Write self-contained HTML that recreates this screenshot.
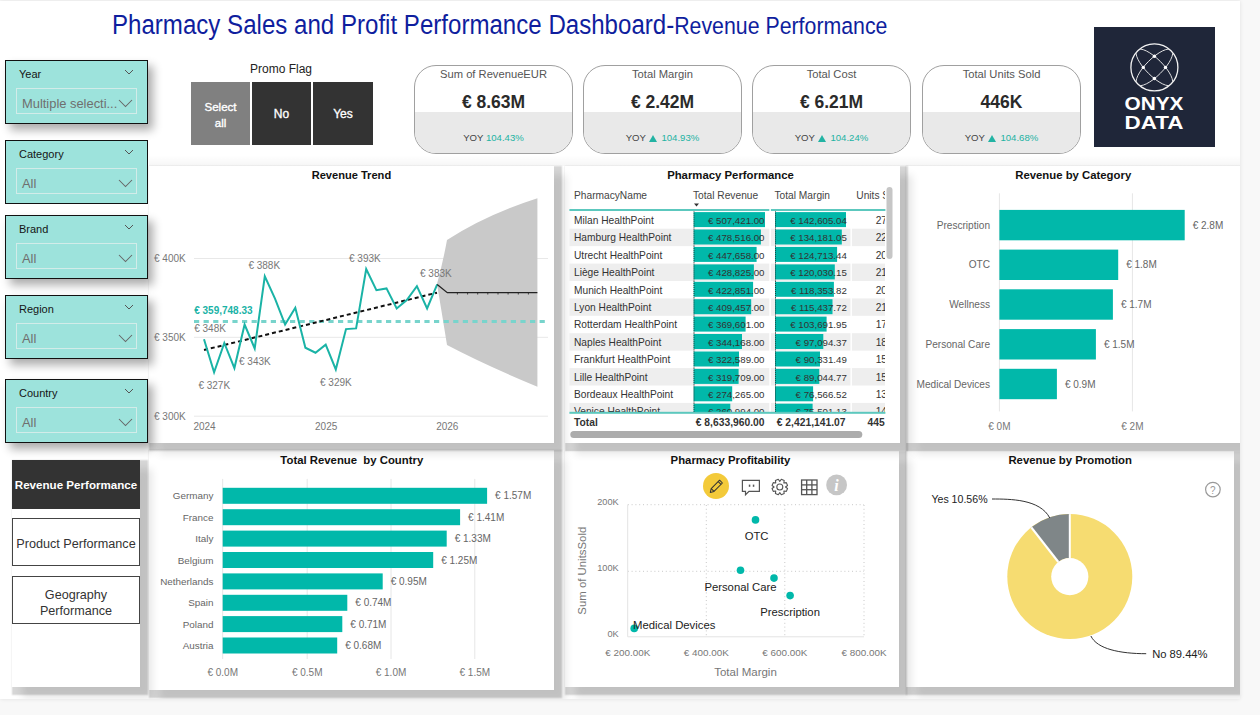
<!DOCTYPE html>
<html><head><meta charset="utf-8">
<style>
*{margin:0;padding:0;box-sizing:border-box}
html,body{width:1260px;height:715px;overflow:hidden;background:#f8f8f8;font-family:"Liberation Sans",sans-serif;color:#252423}
.a{position:absolute}
#canvas{left:0;top:1px;width:1240px;height:698px;background:#fff;box-shadow:0 0 4px rgba(0,0,0,.10)}
.t{white-space:nowrap;line-height:1}
.psh{box-shadow:4px 4px 1.5px 4px rgba(0,0,0,.16),11px 10px 8px 1px rgba(0,0,0,.10)}
.slicer{left:5px;width:143px;height:64px;background:#9de3dc;border:1.5px solid #111;box-shadow:5px 6px 9px rgba(0,0,0,.33)}
.slicer .h{left:13px;top:8px;font-size:11px;color:#151515}
.slicer .chev{left:118px;top:8px}
.slicer .box{left:10px;top:27px;width:121px;height:26px;border:1.5px solid #d2ece9}
.slicer .v{left:5px;top:9px;font-size:12.9px;color:#6f6f6f}
.slicer .chev2{left:100.5px;top:9.5px}
.btn{top:82px;height:63px;color:#fff;font-size:11.5px;text-align:center;-webkit-text-stroke:0.35px #fff}
.card{top:65px;width:159px;height:89px;border:1px solid #a0a0a0;border-radius:22px;overflow:hidden;background:#fff}
.card .bot{left:0;top:46px;width:100%;height:50px;background:#e9e9e9}
.card .ti{left:0;top:3px;width:100%;text-align:center;font-size:11.2px;color:#555}
.card .val{left:0;top:28px;width:100%;text-align:center;font-size:17.5px;font-weight:bold;color:#2a2a2a}
.card .yoy{left:0;top:67px;width:100%;text-align:center;font-size:9.6px;color:#444}
.tri{display:inline-block;width:0;height:0;border-left:4.2px solid transparent;border-right:4.2px solid transparent;border-bottom:7.5px solid #22b3a3;margin-left:1px;margin-right:4px;vertical-align:-0.5px}
.card .yoy span{color:#22b3a3}
.ptitle{font-size:12px;font-weight:bold;color:#111;text-align:center}
.nav{left:12px;width:128px;height:48px;border:1px solid #444;font-size:12.65px;color:#333;text-align:center}
</style></head><body>
<div id="canvas" class="a"></div>

<!-- Title -->
<div class="a t" style="left:112px;top:12px;font-size:27px;color:#0f1e9e;transform:scaleX(0.892);transform-origin:0 0">Pharmacy Sales and Profit Performance Dashboard-<span style="font-size:23.9px">Revenue Performance</span></div>

<!-- Promo flag -->
<div class="a t" style="left:231px;top:63px;width:100px;text-align:center;font-size:12px;color:#222">Promo Flag</div>
<div class="a btn" style="left:191px;width:59px;background:#808080"><div class="a t" style="left:0;top:17px;width:100%;line-height:16px">Select<br>all</div></div>
<div class="a btn" style="left:252px;width:59px;background:#333"><div class="a t" style="left:0;top:26px;width:100%;font-size:12px">No</div></div>
<div class="a btn" style="left:313px;width:60px;background:#333"><div class="a t" style="left:0;top:26px;width:100%;font-size:12px">Yes</div></div>

<!-- KPI cards -->
<div class="a card" style="left:414px"><div class="a bot"></div><div class="a t ti">Sum of RevenueEUR</div><div class="a t val">€ 8.63M</div><div class="a t yoy">YOY <span>104.43%</span></div></div>
<div class="a card" style="left:583px"><div class="a bot"></div><div class="a t ti">Total Margin</div><div class="a t val">€ 2.42M</div><div class="a t yoy">YOY <span><i class="tri"></i>104.93%</span></div></div>
<div class="a card" style="left:752px"><div class="a bot"></div><div class="a t ti">Total Cost</div><div class="a t val">€ 6.21M</div><div class="a t yoy">YOY <span><i class="tri"></i>104.24%</span></div></div>
<div class="a card" style="left:922px"><div class="a bot"></div><div class="a t ti">Total Units Sold</div><div class="a t val">446K</div><div class="a t yoy">YOY <span><i class="tri"></i>104.68%</span></div></div>

<!-- Logo -->
<div class="a" style="left:1094px;top:27px;width:121px;height:120px;background:#1f2639">
<svg class="a" style="left:0;top:0" width="121" height="120" viewBox="0 0 121 120">
<defs><clipPath id="lc"><circle cx="60.4" cy="40.4" r="23.3"/></clipPath></defs>
<circle cx="60.4" cy="40.4" r="23.5" fill="none" stroke="#f2f2f2" stroke-width="1.3"/>
<g clip-path="url(#lc)" fill="none" stroke="#e8e8e8" stroke-width="0.9">
<ellipse cx="60.4" cy="40.4" rx="24.5" ry="8.4" transform="rotate(45 60.4 40.4)"/>
<ellipse cx="60.4" cy="40.4" rx="24.5" ry="8.4" transform="rotate(-45 60.4 40.4)"/>
</g>
<g fill="#fff"><circle cx="60.4" cy="29.3" r="1.7"/><circle cx="60.4" cy="51.5" r="1.7"/><circle cx="49.3" cy="40.4" r="1.7"/><circle cx="71.5" cy="40.4" r="1.7"/></g>
<text x="30.5" y="83.4" textLength="59" lengthAdjust="spacingAndGlyphs" font-family="Liberation Sans" font-weight="bold" font-size="17.8" fill="#fff">ONYX</text>
<text x="30.5" y="101.9" textLength="59" lengthAdjust="spacingAndGlyphs" font-family="Liberation Sans" font-weight="bold" font-size="18.6" fill="#fff">DATA</text>
</svg>
</div>

<!-- Panels -->
<div class="a" style="left:0;top:0;width:1240px;height:699px;overflow:hidden">
<div class="a" style="left:149px;top:155px;width:1091px;height:11px;background:linear-gradient(rgba(0,0,0,0),rgba(0,0,0,.035))"></div>
<div class="a" style="left:149px;top:166px;width:405px;height:277px;background:#fff"></div>
<div class="a" style="left:565px;top:166px;width:335px;height:277px;background:#fff"></div>
<div class="a" style="left:906px;top:166px;width:334px;height:277px;background:#fff"></div>
<div class="a" style="left:149px;top:450px;width:405px;height:240px;background:#fff"></div>
<div class="a" style="left:565px;top:451px;width:334px;height:236px;background:#fff"></div>
<div class="a" style="left:906px;top:451px;width:328px;height:236px;background:#fff"></div>
<div class="a" style="left:12px;top:460px;width:128px;height:227px;background:#fff"></div>
<div class="a psh" style="left:149px;top:166px;width:405px;height:277px"></div>
<div class="a psh" style="left:565px;top:166px;width:335px;height:277px"></div>
<div class="a psh" style="left:906px;top:166px;width:334px;height:277px"></div>
<div class="a psh" style="left:149px;top:450px;width:405px;height:240px"></div>
<div class="a psh" style="left:565px;top:451px;width:334px;height:236px"></div>
<div class="a psh" style="left:906px;top:451px;width:328px;height:236px"></div>
<div class="a psh" style="left:12px;top:460px;width:128px;height:227px"></div>
</div>

<!-- Slicers -->
<div class="a slicer" style="top:60px"><div class="a t h">Year</div><svg class="a chev" width="10" height="7"><path d="M1 1 L5 5 L9 1" fill="none" stroke="#555" stroke-width="1"/></svg><div class="a box"><div class="a t v">Multiple selecti...</div><svg class="a chev2" width="15" height="9"><path d="M1 1 L7.5 7.5 L14 1" fill="none" stroke="#666" stroke-width="1.05"/></svg></div></div>
<div class="a slicer" style="top:140px;box-shadow:none"><div class="a t h">Category</div><svg class="a chev" width="10" height="7"><path d="M1 1 L5 5 L9 1" fill="none" stroke="#555" stroke-width="1"/></svg><div class="a box"><div class="a t v">All</div><svg class="a chev2" width="15" height="9"><path d="M1 1 L7.5 7.5 L14 1" fill="none" stroke="#666" stroke-width="1.05"/></svg></div></div>
<div class="a slicer" style="top:215px"><div class="a t h">Brand</div><svg class="a chev" width="10" height="7"><path d="M1 1 L5 5 L9 1" fill="none" stroke="#555" stroke-width="1"/></svg><div class="a box"><div class="a t v">All</div><svg class="a chev2" width="15" height="9"><path d="M1 1 L7.5 7.5 L14 1" fill="none" stroke="#666" stroke-width="1.05"/></svg></div></div>
<div class="a slicer" style="top:295px"><div class="a t h">Region</div><svg class="a chev" width="10" height="7"><path d="M1 1 L5 5 L9 1" fill="none" stroke="#555" stroke-width="1"/></svg><div class="a box"><div class="a t v">All</div><svg class="a chev2" width="15" height="9"><path d="M1 1 L7.5 7.5 L14 1" fill="none" stroke="#666" stroke-width="1.05"/></svg></div></div>
<div class="a slicer" style="top:379px"><div class="a t h">Country</div><svg class="a chev" width="10" height="7"><path d="M1 1 L5 5 L9 1" fill="none" stroke="#555" stroke-width="1"/></svg><div class="a box"><div class="a t v">All</div><svg class="a chev2" width="15" height="9"><path d="M1 1 L7.5 7.5 L14 1" fill="none" stroke="#666" stroke-width="1.05"/></svg></div></div>

<!-- Nav -->
<div class="a nav" style="top:460px;height:49px;background:#333;border-color:#333;color:#fff;font-weight:bold"><div class="a t" style="left:0;top:18px;width:100%;font-size:11.6px">Revenue Performance</div></div>
<div class="a nav" style="top:518px"><div class="a t" style="left:0;top:19px;width:100%">Product Performance</div></div>
<div class="a nav" style="top:576px"><div class="a t" style="left:0;top:10px;width:100%;line-height:16px;font-size:12.6px">Geography<br>Performance</div></div>


<!-- CHARTS -->
<svg class="a" style="left:0;top:0" width="1260" height="715" viewBox="0 0 1260 715" font-family="Liberation Sans">
<!-- Revenue Trend -->
<text x="351.4" y="179" text-anchor="middle" font-size="11.1" font-weight="bold" fill="#111">Revenue Trend</text>
<g stroke="#e8e8e8" stroke-width="1"><line x1="194" y1="258.5" x2="548" y2="258.5"/><line x1="194" y1="337.3" x2="548" y2="337.3"/><line x1="194" y1="416.2" x2="548" y2="416.2"/></g>
<g font-size="10" fill="#777"><text x="154" y="262">€ 400K</text><text x="154" y="341">€ 350K</text><text x="154" y="420">€ 300K</text>
<text x="204.5" y="430" text-anchor="middle">2024</text><text x="326.2" y="430" text-anchor="middle">2025</text><text x="447.3" y="430" text-anchor="middle">2026</text></g>
<path d="M437,284 Q443,262 447,240 Q485,215 537.4,198.2 L537.4,386.7 Q485,365 447,345 Q443,320 437,284 Z" fill="#c9c9c9"/>
<line x1="194" y1="321.5" x2="548" y2="321.5" stroke="#78d4cc" stroke-width="3.2" stroke-dasharray="5.2,4.4"/>
<line x1="204" y1="350" x2="437" y2="292.7" stroke="#111" stroke-width="2" stroke-dasharray="4,3"/>
<polyline points="204.0,339.3 214.1,372.3 224.3,343 234.4,368.1 244.6,324.5 254.7,348.5 264.8,276.4 275.0,298.7 285.1,324.5 295.3,307.7 305.4,347.7 315.5,352.7 325.7,344.6 335.8,369.5 346.0,329.1 356.1,328.4 366.2,269.1 376.4,290.2 386.5,288.4 396.7,308.4 406.8,300 416.9,286.2 427.1,308.4 437.2,284.4" fill="none" stroke="#1ab3a6" stroke-width="2" stroke-linejoin="miter"/>
<polyline points="437.2,284.4 447.3,292.7 537.4,292.7" fill="none" stroke="#222" stroke-width="1.3"/>
<g stroke="#222" stroke-width="0.8"><line x1="457.4" y1="292.7" x2="457.4" y2="294.5"/><line x1="467.6" y1="292.7" x2="467.6" y2="294.5"/><line x1="477.7" y1="292.7" x2="477.7" y2="294.5"/><line x1="487.8" y1="292.7" x2="487.8" y2="294.5"/><line x1="498" y1="292.7" x2="498" y2="294.5"/><line x1="508.1" y1="292.7" x2="508.1" y2="294.5"/><line x1="518.3" y1="292.7" x2="518.3" y2="294.5"/><line x1="528.4" y1="292.7" x2="528.4" y2="294.5"/></g>
<g font-size="10" fill="#777"><text x="248.4" y="269.3">€ 388K</text><text x="349" y="261.8">€ 393K</text><text x="420" y="277.4">€ 383K</text>
<text x="194.2" y="331.6">€ 348K</text><text x="239" y="364.6">€ 343K</text><text x="198.4" y="389.1">€ 327K</text><text x="320" y="385.6">€ 329K</text></g>
<text x="194.2" y="313.6" font-size="10" font-weight="bold" fill="#1ab3a6">€ 359,748.33</text>




<!-- EXTRA -->
<clipPath id="tclip"><rect x="569" y="186" width="316" height="226"/></clipPath>
<clipPath id="hclip"><rect x="565" y="186" width="320" height="260"/></clipPath>
<text x="730.5" y="179.3" text-anchor="middle" font-size="11.35" font-weight="bold" fill="#111">Pharmacy Performance</text>
<g clip-path="url(#hclip)" font-size="10.2" fill="#444">
<text x="574" y="199.3">PharmacyName</text><text x="693" y="199.3">Total Revenue</text><text x="774.5" y="199.3">Total Margin</text><text x="856.3" y="199.3">Units Sold</text>
</g>
<path d="M694,203.5 L699,203.5 L696.5,206.5 Z" fill="#333"/>
<g clip-path="url(#tclip)">
<rect x="693.6" y="212.1" width="71.4" height="15" fill="#01b8aa"/>
<rect x="775" y="212.1" width="71.0" height="15" fill="#01b8aa"/>
<line x1="694" y1="211.3" x2="694" y2="228.7" stroke="#222" stroke-width="0.8" stroke-dasharray="1,1"/>
<line x1="775.5" y1="211.3" x2="775.5" y2="228.7" stroke="#222" stroke-width="0.8" stroke-dasharray="1,1"/>
<g font-size="10.2" fill="#333"><text x="574" y="223.8">Milan HealthPoint</text><text x="764.5" y="223.8" text-anchor="end" font-size="9.7">€ 507,421.00</text><text x="846.8" y="223.8" text-anchor="end" font-size="9.7">€ 142,605.04</text><text x="875.7" y="223.8">27,311</text></g>
<rect x="569.4" y="228.7" width="316" height="17.42" fill="#eeeeee"/>
<rect x="693.6" y="229.5" width="67.3" height="15" fill="#01b8aa"/>
<rect x="775" y="229.5" width="66.8" height="15" fill="#01b8aa"/>
<line x1="694" y1="228.7" x2="694" y2="246.1" stroke="#222" stroke-width="0.8" stroke-dasharray="1,1"/>
<line x1="775.5" y1="228.7" x2="775.5" y2="246.1" stroke="#222" stroke-width="0.8" stroke-dasharray="1,1"/>
<g font-size="10.2" fill="#333"><text x="574" y="241.2">Hamburg HealthPoint</text><text x="764.5" y="241.2" text-anchor="end" font-size="9.7">€ 478,516.00</text><text x="846.8" y="241.2" text-anchor="end" font-size="9.7">€ 134,181.05</text><text x="875.7" y="241.2">22,904</text></g>
<rect x="693.6" y="246.9" width="63.0" height="15" fill="#01b8aa"/>
<rect x="775" y="246.9" width="62.1" height="15" fill="#01b8aa"/>
<line x1="694" y1="246.1" x2="694" y2="263.6" stroke="#222" stroke-width="0.8" stroke-dasharray="1,1"/>
<line x1="775.5" y1="246.1" x2="775.5" y2="263.6" stroke="#222" stroke-width="0.8" stroke-dasharray="1,1"/>
<g font-size="10.2" fill="#333"><text x="574" y="258.6">Utrecht HealthPoint</text><text x="764.5" y="258.6" text-anchor="end" font-size="9.7">€ 447,658.00</text><text x="846.8" y="258.6" text-anchor="end" font-size="9.7">€ 124,713.44</text><text x="875.7" y="258.6">20,611</text></g>
<rect x="569.4" y="263.6" width="316" height="17.42" fill="#eeeeee"/>
<rect x="693.6" y="264.4" width="60.3" height="15" fill="#01b8aa"/>
<rect x="775" y="264.4" width="59.8" height="15" fill="#01b8aa"/>
<line x1="694" y1="263.6" x2="694" y2="281.0" stroke="#222" stroke-width="0.8" stroke-dasharray="1,1"/>
<line x1="775.5" y1="263.6" x2="775.5" y2="281.0" stroke="#222" stroke-width="0.8" stroke-dasharray="1,1"/>
<g font-size="10.2" fill="#333"><text x="574" y="276.1">Liège HealthPoint</text><text x="764.5" y="276.1" text-anchor="end" font-size="9.7">€ 428,825.00</text><text x="846.8" y="276.1" text-anchor="end" font-size="9.7">€ 120,030.15</text><text x="875.7" y="276.1">21,087</text></g>
<rect x="693.6" y="281.8" width="59.5" height="15" fill="#01b8aa"/>
<rect x="775" y="281.8" width="58.9" height="15" fill="#01b8aa"/>
<line x1="694" y1="281.0" x2="694" y2="298.4" stroke="#222" stroke-width="0.8" stroke-dasharray="1,1"/>
<line x1="775.5" y1="281.0" x2="775.5" y2="298.4" stroke="#222" stroke-width="0.8" stroke-dasharray="1,1"/>
<g font-size="10.2" fill="#333"><text x="574" y="293.5">Munich HealthPoint</text><text x="764.5" y="293.5" text-anchor="end" font-size="9.7">€ 422,851.00</text><text x="846.8" y="293.5" text-anchor="end" font-size="9.7">€ 118,353.82</text><text x="875.7" y="293.5">20,345</text></g>
<rect x="569.4" y="298.4" width="316" height="17.42" fill="#eeeeee"/>
<rect x="693.6" y="299.2" width="57.6" height="15" fill="#01b8aa"/>
<rect x="775" y="299.2" width="57.5" height="15" fill="#01b8aa"/>
<line x1="694" y1="298.4" x2="694" y2="315.8" stroke="#222" stroke-width="0.8" stroke-dasharray="1,1"/>
<line x1="775.5" y1="298.4" x2="775.5" y2="315.8" stroke="#222" stroke-width="0.8" stroke-dasharray="1,1"/>
<g font-size="10.2" fill="#333"><text x="574" y="310.9">Lyon HealthPoint</text><text x="764.5" y="310.9" text-anchor="end" font-size="9.7">€ 409,457.00</text><text x="846.8" y="310.9" text-anchor="end" font-size="9.7">€ 115,437.72</text><text x="875.7" y="310.9">21,120</text></g>
<rect x="693.6" y="316.6" width="52.0" height="15" fill="#01b8aa"/>
<rect x="775" y="316.6" width="51.6" height="15" fill="#01b8aa"/>
<line x1="694" y1="315.8" x2="694" y2="333.2" stroke="#222" stroke-width="0.8" stroke-dasharray="1,1"/>
<line x1="775.5" y1="315.8" x2="775.5" y2="333.2" stroke="#222" stroke-width="0.8" stroke-dasharray="1,1"/>
<g font-size="10.2" fill="#333"><text x="574" y="328.3">Rotterdam HealthPoint</text><text x="764.5" y="328.3" text-anchor="end" font-size="9.7">€ 369,601.00</text><text x="846.8" y="328.3" text-anchor="end" font-size="9.7">€ 103,691.95</text><text x="875.7" y="328.3">17,802</text></g>
<rect x="569.4" y="333.2" width="316" height="17.42" fill="#eeeeee"/>
<rect x="693.6" y="334.0" width="48.4" height="15" fill="#01b8aa"/>
<rect x="775" y="334.0" width="48.3" height="15" fill="#01b8aa"/>
<line x1="694" y1="333.2" x2="694" y2="350.7" stroke="#222" stroke-width="0.8" stroke-dasharray="1,1"/>
<line x1="775.5" y1="333.2" x2="775.5" y2="350.7" stroke="#222" stroke-width="0.8" stroke-dasharray="1,1"/>
<g font-size="10.2" fill="#333"><text x="574" y="345.7">Naples HealthPoint</text><text x="764.5" y="345.7" text-anchor="end" font-size="9.7">€ 344,168.00</text><text x="846.8" y="345.7" text-anchor="end" font-size="9.7">€ 97,094.37</text><text x="875.7" y="345.7">18,233</text></g>
<rect x="693.6" y="351.5" width="45.4" height="15" fill="#01b8aa"/>
<rect x="775" y="351.5" width="45.0" height="15" fill="#01b8aa"/>
<line x1="694" y1="350.7" x2="694" y2="368.1" stroke="#222" stroke-width="0.8" stroke-dasharray="1,1"/>
<line x1="775.5" y1="350.7" x2="775.5" y2="368.1" stroke="#222" stroke-width="0.8" stroke-dasharray="1,1"/>
<g font-size="10.2" fill="#333"><text x="574" y="363.2">Frankfurt HealthPoint</text><text x="764.5" y="363.2" text-anchor="end" font-size="9.7">€ 322,589.00</text><text x="846.8" y="363.2" text-anchor="end" font-size="9.7">€ 90,331.49</text><text x="875.7" y="363.2">15,940</text></g>
<rect x="569.4" y="368.1" width="316" height="17.42" fill="#eeeeee"/>
<rect x="693.6" y="368.9" width="45.0" height="15" fill="#01b8aa"/>
<rect x="775" y="368.9" width="44.3" height="15" fill="#01b8aa"/>
<line x1="694" y1="368.1" x2="694" y2="385.5" stroke="#222" stroke-width="0.8" stroke-dasharray="1,1"/>
<line x1="775.5" y1="368.1" x2="775.5" y2="385.5" stroke="#222" stroke-width="0.8" stroke-dasharray="1,1"/>
<g font-size="10.2" fill="#333"><text x="574" y="380.6">Lille HealthPoint</text><text x="764.5" y="380.6" text-anchor="end" font-size="9.7">€ 319,709.00</text><text x="846.8" y="380.6" text-anchor="end" font-size="9.7">€ 89,044.77</text><text x="875.7" y="380.6">15,327</text></g>
<rect x="693.6" y="386.3" width="38.6" height="15" fill="#01b8aa"/>
<rect x="775" y="386.3" width="38.1" height="15" fill="#01b8aa"/>
<line x1="694" y1="385.5" x2="694" y2="402.9" stroke="#222" stroke-width="0.8" stroke-dasharray="1,1"/>
<line x1="775.5" y1="385.5" x2="775.5" y2="402.9" stroke="#222" stroke-width="0.8" stroke-dasharray="1,1"/>
<g font-size="10.2" fill="#333"><text x="574" y="398.0">Bordeaux HealthPoint</text><text x="764.5" y="398.0" text-anchor="end" font-size="9.7">€ 274,265.00</text><text x="846.8" y="398.0" text-anchor="end" font-size="9.7">€ 76,566.52</text><text x="875.7" y="398.0">13,456</text></g>
<rect x="569.4" y="402.9" width="316" height="17.42" fill="#eeeeee"/>
<rect x="693.6" y="403.7" width="36.7" height="15" fill="#01b8aa"/>
<rect x="775" y="403.7" width="37.6" height="15" fill="#01b8aa"/>
<line x1="694" y1="402.9" x2="694" y2="420.3" stroke="#222" stroke-width="0.8" stroke-dasharray="1,1"/>
<line x1="775.5" y1="402.9" x2="775.5" y2="420.3" stroke="#222" stroke-width="0.8" stroke-dasharray="1,1"/>
<g font-size="10.2" fill="#333"><text x="574" y="415.4">Venice HealthPoint</text><text x="764.5" y="415.4" text-anchor="end" font-size="9.7">€ 260,994.00</text><text x="846.8" y="415.4" text-anchor="end" font-size="9.7">€ 75,501.13</text><text x="875.7" y="415.4">14,021</text></g>
</g>
<rect x="569.4" y="209" width="316" height="2" fill="#5cc8be"/>
<rect x="769.3" y="186" width="1.6" height="226" fill="#fff"/><rect x="850.5" y="211" width="1.4" height="201" fill="#fff"/>
<rect x="569.4" y="411.8" width="316" height="2" fill="#5cc8be"/>
<g clip-path="url(#hclip)" font-size="10.3" font-weight="bold" fill="#333"><text x="574" y="425.9">Total</text><text x="764.5" y="425.9" text-anchor="end">€ 8,633,960.00</text><text x="845.5" y="425.9" text-anchor="end">€ 2,421,141.07</text><text x="867.6" y="425.9">445,804</text></g>
<rect x="570.3" y="431" width="292" height="7" rx="3.5" fill="#acacac"/>
<rect x="886.5" y="187" width="6" height="72" rx="3" fill="#c6c6c6"/>
<text x="1073.2" y="179.1" text-anchor="middle" font-size="11.35" font-weight="bold" fill="#111">Revenue by Category</text>
<g stroke="#e6e6e6" stroke-width="1"><line x1="999.4" y1="193.3" x2="999.4" y2="411.4"/><line x1="1132.4" y1="193.3" x2="1132.4" y2="411.4"/></g>
<rect x="999.4" y="209.9" width="185.3" height="30.4" fill="#01b8aa"/>
<text x="990" y="228.7" text-anchor="end" font-size="10.1" fill="#666">Prescription</text>
<text x="1192.7" y="228.7" font-size="10" fill="#666">€ 2.8M</text>
<rect x="999.4" y="249.6" width="118.8" height="30.4" fill="#01b8aa"/>
<text x="990" y="268.4" text-anchor="end" font-size="10.1" fill="#666">OTC</text>
<text x="1126.2" y="268.4" font-size="10" fill="#666">€ 1.8M</text>
<rect x="999.4" y="289.3" width="113.5" height="30.4" fill="#01b8aa"/>
<text x="990" y="308.1" text-anchor="end" font-size="10.1" fill="#666">Wellness</text>
<text x="1120.9" y="308.1" font-size="10" fill="#666">€ 1.7M</text>
<rect x="999.4" y="329.1" width="96.5" height="30.4" fill="#01b8aa"/>
<text x="990" y="347.9" text-anchor="end" font-size="10.1" fill="#666">Personal Care</text>
<text x="1103.9" y="347.9" font-size="10" fill="#666">€ 1.5M</text>
<rect x="999.4" y="368.8" width="57.5" height="30.4" fill="#01b8aa"/>
<text x="990" y="387.6" text-anchor="end" font-size="10.1" fill="#666">Medical Devices</text>
<text x="1064.9" y="387.6" font-size="10" fill="#666">€ 0.9M</text>
<g font-size="10" fill="#777" text-anchor="middle"><text x="999.4" y="430">€ 0M</text><text x="1132.4" y="430">€ 2M</text></g>
<text x="351.8" y="464.1" text-anchor="middle" font-size="11.35" font-weight="bold" fill="#111">Total Revenue&#160; by Country</text>
<g stroke="#e6e6e6" stroke-width="1"><line x1="222.7" y1="478.9" x2="222.7" y2="659"/><line x1="307.2" y1="478.9" x2="307.2" y2="659"/><line x1="391" y1="478.9" x2="391" y2="659"/><line x1="474.8" y1="478.9" x2="474.8" y2="659"/></g>
<rect x="222.7" y="487.8" width="264.4" height="16" fill="#01b8aa"/>
<text x="213.4" y="499.4" text-anchor="end" font-size="9.9" fill="#666">Germany</text>
<text x="495.1" y="499.4" font-size="10" fill="#666">€ 1.57M</text>
<rect x="222.7" y="509.2" width="237.4" height="16" fill="#01b8aa"/>
<text x="213.4" y="520.8" text-anchor="end" font-size="9.9" fill="#666">France</text>
<text x="468.1" y="520.8" font-size="10" fill="#666">€ 1.41M</text>
<rect x="222.7" y="530.6" width="224.0" height="16" fill="#01b8aa"/>
<text x="213.4" y="542.2" text-anchor="end" font-size="9.9" fill="#666">Italy</text>
<text x="454.7" y="542.2" font-size="10" fill="#666">€ 1.33M</text>
<rect x="222.7" y="552.0" width="210.5" height="16" fill="#01b8aa"/>
<text x="213.4" y="563.6" text-anchor="end" font-size="9.9" fill="#666">Belgium</text>
<text x="441.2" y="563.6" font-size="10" fill="#666">€ 1.25M</text>
<rect x="222.7" y="573.4" width="160.0" height="16" fill="#01b8aa"/>
<text x="213.4" y="585.0" text-anchor="end" font-size="9.9" fill="#666">Netherlands</text>
<text x="390.7" y="585.0" font-size="10" fill="#666">€ 0.95M</text>
<rect x="222.7" y="594.8" width="124.6" height="16" fill="#01b8aa"/>
<text x="213.4" y="606.4" text-anchor="end" font-size="9.9" fill="#666">Spain</text>
<text x="355.3" y="606.4" font-size="10" fill="#666">€ 0.74M</text>
<rect x="222.7" y="616.1" width="119.6" height="16" fill="#01b8aa"/>
<text x="213.4" y="627.7" text-anchor="end" font-size="9.9" fill="#666">Poland</text>
<text x="350.3" y="627.7" font-size="10" fill="#666">€ 0.71M</text>
<rect x="222.7" y="637.5" width="114.5" height="16" fill="#01b8aa"/>
<text x="213.4" y="649.1" text-anchor="end" font-size="9.9" fill="#666">Austria</text>
<text x="345.2" y="649.1" font-size="10" fill="#666">€ 0.68M</text>
<g font-size="10" fill="#777" text-anchor="middle"><text x="222.7" y="675.6">€ 0.0M</text><text x="307.2" y="675.6">€ 0.5M</text><text x="391" y="675.6">€ 1.0M</text><text x="474.8" y="675.6">€ 1.5M</text></g>
<text x="730.5" y="464.1" text-anchor="middle" font-size="11.35" font-weight="bold" fill="#111">Pharmacy Profitability</text>
<g stroke="#c8c8c8" stroke-width="1" stroke-dasharray="1,2.8" fill="none">
<line x1="706.3" y1="505" x2="706.3" y2="636.6"/>
<line x1="784.8" y1="505" x2="784.8" y2="636.6"/>
<line x1="864" y1="505" x2="864" y2="636.6"/>
<line x1="627.8" y1="504.7" x2="864" y2="504.7"/>
<line x1="627.8" y1="571.3" x2="864" y2="571.3"/>
</g>
<g stroke="#e3e3e3" stroke-width="1"><line x1="627.7" y1="504.7" x2="627.7" y2="636.8"/><line x1="627.7" y1="636.8" x2="864" y2="636.8"/></g>
<g font-size="9.2" fill="#777" text-anchor="end"><text x="618.7" y="505.2">200K</text><text x="618.7" y="571.2">100K</text><text x="618.7" y="637">0K</text></g>
<g font-size="9.9" fill="#777" text-anchor="middle"><text x="627.8" y="655.7">€ 200.00K</text><text x="706.3" y="655.7">€ 400.00K</text><text x="784.8" y="655.7">€ 600.00K</text><text x="864" y="655.7">€ 800.00K</text></g>
<text x="745.5" y="675.5" text-anchor="middle" font-size="11.5" fill="#777">Total Margin</text>
<text transform="translate(585.6,570.7) rotate(-90)" text-anchor="middle" font-size="11.4" fill="#777">Sum of UnitsSold</text>
<circle cx="755.5" cy="519.9" r="3.8" fill="#01b8aa"/>
<circle cx="740.5" cy="570.2" r="3.8" fill="#01b8aa"/>
<circle cx="774" cy="578.1" r="3.8" fill="#01b8aa"/>
<circle cx="790.1" cy="595.6" r="3.8" fill="#01b8aa"/>
<circle cx="634.2" cy="628.4" r="3.8" fill="#01b8aa"/>
<g font-size="11.3" fill="#222" text-anchor="middle"><text x="756.6" y="540">OTC</text><text x="740.5" y="591">Personal Care</text><text x="790.1" y="615.6">Prescription</text></g>
<text x="633.1" y="628.5" font-size="11.3" fill="#222">Medical Devices</text>
<circle cx="716" cy="486" r="13" fill="#f3ca3a"/>
<g fill="none" stroke="#333" stroke-width="1.05" stroke-linejoin="round"><path d="M710.3,492.4 L711.2,488.6 L719.6,480.2 L722.4,483 L714,491.4 Z"/><path d="M718.2,481.6 L721,484.4"/><path d="M711.2,488.6 L714,491.4"/></g>
<path d="M742.4,480.4 H759.4 V491.4 H749 L745.5,494.8 V491.4 H742.4 Z" fill="none" stroke="#555" stroke-width="1.2"/><g fill="#555"><rect x="748.8" y="484.6" width="1.5" height="2.2"/><rect x="752.8" y="484.6" width="1.5" height="2.2"/></g>
<path d="M785.50,487.00 L787.55,488.51 L786.35,491.41 L783.83,491.03 L783.83,491.03 L784.21,493.55 L781.31,494.75 L779.80,492.70 L779.80,492.70 L778.29,494.75 L775.39,493.55 L775.77,491.03 L775.77,491.03 L773.25,491.41 L772.05,488.51 L774.10,487.00 L774.10,487.00 L772.05,485.49 L773.25,482.59 L775.77,482.97 L775.77,482.97 L775.39,480.45 L778.29,479.25 L779.80,481.30 L779.80,481.30 L781.31,479.25 L784.21,480.45 L783.83,482.97 L783.83,482.97 L786.35,482.59 L787.55,485.49 L785.50,487.00 Z" fill="none" stroke="#555" stroke-width="1.1" stroke-linejoin="round"/><circle cx="779.8" cy="487" r="3" fill="none" stroke="#555" stroke-width="1.1"/>
<g fill="none" stroke="#555" stroke-width="1.3"><rect x="801.6" y="480" width="15.4" height="14.6"/><line x1="806.7" y1="480" x2="806.7" y2="494.6"/><line x1="811.9" y1="480" x2="811.9" y2="494.6"/><line x1="801.6" y1="484.9" x2="817" y2="484.9"/><line x1="801.6" y1="489.7" x2="817" y2="489.7"/></g>
<circle cx="836.6" cy="484.9" r="10.4" fill="#c6c6c6"/><text x="836.6" y="491.2" text-anchor="middle" font-family="Liberation Serif" font-style="italic" font-weight="bold" font-size="16" fill="#fff">i</text>
<text x="1070.2" y="464.1" text-anchor="middle" font-size="11.35" font-weight="bold" fill="#111">Revenue by Promotion</text>
<circle cx="1069.8" cy="576.6" r="62.5" fill="#f6dc71"/>
<path d="M1069.80,514.10 A62.5,62.5 0 0 0 1031.31,527.36 L1058.34,561.95 A18.6,18.6 0 0 1 1069.80,558.00 Z" fill="#7f8688"/>
<line x1="1031.31" y1="527.36" x2="1058.34" y2="561.95" stroke="#fff" stroke-width="2.2"/>
<line x1="1069.80" y1="514.10" x2="1069.80" y2="558.00" stroke="#fff" stroke-width="2"/>
<circle cx="1069.8" cy="576.6" r="18.6" fill="#fff"/>
<path d="M992,499 C1010,499 1040,499 1049.8,518" fill="none" stroke="#333" stroke-width="1"/>
<path d="M1090.9,636 C1097,649 1120,653.7 1146.2,653.7" fill="none" stroke="#333" stroke-width="1"/>
<text x="931.4" y="503" font-size="10.6" fill="#222">Yes 10.56%</text>
<text x="1152.2" y="657.7" font-size="11.2" fill="#222">No 89.44%</text>
<circle cx="1212.9" cy="489.6" r="7.3" fill="none" stroke="#999" stroke-width="1.2"/><text x="1212.9" y="493.6" text-anchor="middle" font-size="10" fill="#999">?</text>
<!-- /EXTRA -->
</svg>
</body></html>
